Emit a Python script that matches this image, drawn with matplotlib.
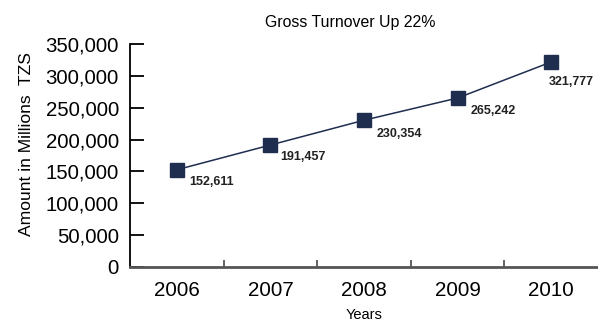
import matplotlib.pyplot as plt
import matplotlib.ticker as mticker

# Turnover per year, millions TZS
years = ['2006', '2007', '2008', '2009', '2010']
turnover = [152611, 191457, 230354, 265242, 321777]
y_ticks = [0, 50000, 100000, 150000, 200000, 250000, 300000, 350000]

navy = '#1f2d4f'
plt.rcParams['font.family'] = ['Liberation Sans', 'DejaVu Sans']

fig = plt.figure(figsize=(5.98, 3.25), dpi=100)
ax = fig.add_axes([130 / 598, 1 - 267 / 325, 1 - 130 / 598, (267 - 44) / 325])

x = list(range(len(years)))
ax.plot(x, turnover, color=navy, linewidth=1.1, marker='s', markersize=9.5,
        markerfacecolor=navy, markeredgecolor=navy, clip_on=False)

# value labels, pixel offsets from each marker
label_offsets = [(12, -12), (10, -12), (13, -14), (13, -13), (-2, -20)]
for xi, val, (dx, dy) in zip(x, turnover, label_offsets):
    ax.annotate(f'{val:,}', (xi, val), xytext=(dx * 0.72, dy * 0.72),
                textcoords='offset points', ha='left', va='center',
                fontsize=9, fontweight='bold', color='#222222')

ax.set_xlim(-0.5, len(years) - 0.5)
ax.set_ylim(0, 350000)
ax.set_yticks(y_ticks)
ax.yaxis.set_major_formatter(mticker.FuncFormatter(lambda v, p: f'{int(v):,}'))
ax.set_xticks(x)
ax.set_xticklabels(years)
ax.set_xticks([i + 0.5 for i in x[:-1]], minor=True)

ax.tick_params(axis='y', direction='in', length=10, width=1.3, labelsize=14.7,
               pad=8, colors='black')
ax.tick_params(axis='x', which='major', length=0, labelsize=14.8, pad=10)
ax.tick_params(axis='x', which='minor', direction='in', length=5, width=1.3,
               color='#555555')

for side in ['top', 'right']:
    ax.spines[side].set_visible(False)
ax.spines['left'].set_linewidth(1.3)
ax.spines['left'].set_color('black')
ax.spines['bottom'].set_linewidth(2)
ax.spines['bottom'].set_color('#555555')

fig.text(27 / 598, 1 - 144 / 325, 'Amount in Millions  TZS', rotation=90,
         ha='center', va='center', fontsize=12.6)
fig.text(364 / 598, 1 - 315 / 325, 'Years', ha='center', va='center', fontsize=10.5)
fig.text(350 / 598, 1 - 23 / 325, 'Gross Turnover Up 22%', ha='center', va='center',
         fontsize=11.4)

fig.savefig('out.png', dpi=100)
